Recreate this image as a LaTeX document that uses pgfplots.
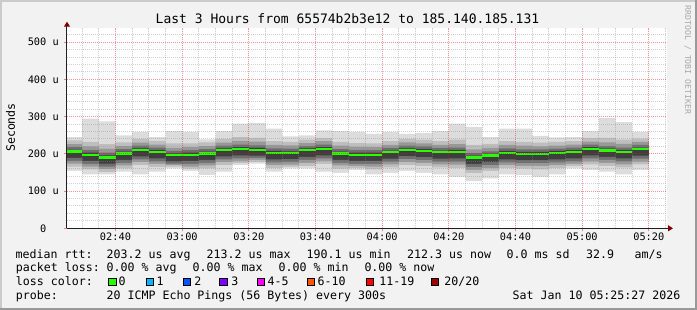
\documentclass[border=0pt]{standalone}
\usepackage{fontspec}
\setmainfont{DejaVu Sans Mono}
\setmonofont{DejaVu Sans Mono}
\usepackage{pgfplots}
\pgfplotsset{compat=1.18}
\usepackage{pgfplotstable}
\usetikzlibrary{arrows.meta}

\definecolor{bgc}{HTML}{F2F2F2}
\definecolor{shadea}{HTML}{CBCBCB}
\definecolor{shadeb}{HTML}{999999}
\definecolor{axisc}{HTML}{202020}
\definecolor{arrowc}{HTML}{7F0000}
\definecolor{mgrid}{HTML}{D21E1E}
\definecolor{sgrid}{HTML}{8C8C8C}
\definecolor{wmc}{HTML}{A8A8A8}
\definecolor{sa}{HTML}{DCDCDC}
\definecolor{sb}{HTML}{BEBEBE}
\definecolor{sc}{HTML}{989898}
\definecolor{sd}{HTML}{6E6E6E}
\definecolor{se}{HTML}{3E3E3E}
\definecolor{lca}{HTML}{26FF00}
\definecolor{lcb}{HTML}{00B8FF}
\definecolor{lcc}{HTML}{0059FF}
\definecolor{lcd}{HTML}{7E00FF}
\definecolor{lce}{HTML}{FF00FF}
\definecolor{lcf}{HTML}{FF5500}
\definecolor{lcg}{HTML}{FF0000}
\definecolor{lch}{HTML}{A10000}

\newcommand\legf{\fontsize{11.6pt}{13pt}\selectfont}
\newcommand\tickf{\fontsize{10.3pt}{12pt}\selectfont}
\newcommand\titf{\fontsize{13pt}{15pt}\selectfont}
\newcommand\wmf{\fontsize{8.2pt}{10pt}\selectfont}

% x = minutes after 00:00 (start of each 300 s step), values in microseconds
\pgfplotstableread{
x      mn  mx  aa  ba  ab  bb  ac  bc  ad  bd  med
145.45 154 245 166 236 174 226 181 218 189 211 206.1
150    145 295 158 232 166 220 173 210 181 203 198.0
155    145 287 151 226 159 214 166 203 174 196 190.1
160    152 250 161 231 169 221 176 213 184 206 200.7
165    145 259 170 240 178 230 185 222 193 215 210.6
170    152 245 165 235 173 225 180 217 188 210 205.2
175    161 261 166 228 170 216 174 208 180 201 196.2
180    154 259 160 228 166 218 173 210 181 203 198.0
185    143 239 161 231 169 221 176 213 184 206 200.7
190    152 261 170 240 178 230 185 222 193 215 209.7
195    170 281 175 245 181 235 188 225 196 218 213.2
200    174 283 179 243 184 233 189 223 195 216 210.6
205    152 268 162 234 170 224 177 215 185 208 202.5
210    161 247 166 232 171 223 178 214 186 207 202.5
215    161 250 168 238 176 229 184 221 192 215 209.7
220    152 263 173 242 181 234 188 225 196 218 213.2
225    149 261 160 232 169 222 176 213 184 206 200.7
230    156 259 162 229 167 219 173 210 181 203 198.0
235    145 254 158 228 166 218 173 210 181 203 198.0
240    149 259 164 234 172 224 179 216 187 209 204.3
245    154 254 170 240 178 231 186 222 194 215 210.6
250    149 256 168 238 176 228 183 220 191 213 207.9
255    145 261 164 234 172 224 179 216 187 209 204.3
260    138 281 162 238 171 226 179 217 188 210 205.2
265    127 272 148 224 157 212 165 202 173 195 190.1
270    134 245 154 227 162 216 170 207 178 200 195.4
275    145 268 162 234 170 224 177 215 185 208 202.5
280    143 268 160 232 168 222 175 212 183 205 199.8
285    138 248 158 230 167 220 175 212 183 205 199.8
290    145 244 162 232 170 222 177 214 185 208 202.5
295    161 245 167 234 173 225 180 217 188 210 205.2
300    156 261 172 242 180 233 188 225 196 218 213.2
305    152 296 168 243 176 231 184 221 192 214 208.8
310    145 285 164 238 172 227 180 217 188 210 205.2
315    156 259 172 241 179 232 187 224 195 217 212.3
320    156 259 172 241 179 232 187 224 195 217 212.3
}\smoke

\begin{document}
\begin{tikzpicture}[x=1pt,y=1pt]
\fill[bgc] (0,0) rectangle (697,310);
\fill[shadea] (0,0) rectangle (2,310);
\fill[shadea] (0,308) rectangle (697,310);
\fill[shadeb] (695,0) rectangle (697,310);
\fill[shadeb] (0,0) rectangle (697,2);

\begin{axis}[
  at={(67pt,81.7pt)}, anchor=south west,
  scale only axis, width=600pt, height=200.6pt,
  xmin=145.45, xmax=325.45, ymin=0, ymax=539,
  axis background/.style={fill=white},
  axis on top,
  axis lines=left,
  axis line style={line width=1pt, color=axisc, shorten >=-6pt,
    -{Triangle[length=5pt,width=6pt,color=arrowc,fill=arrowc]}},
  xtick={160,180,...,320},
  xticklabels={02:40,03:00,03:20,03:40,04:00,04:20,04:40,05:00,05:20},
  minor xtick={150,155,165,170,175,185,190,195,205,210,215,225,230,235,245,250,255,265,270,275,285,290,295,305,310,315,325},
  ytick={0,100,200,300,400,500},
  yticklabels={0\phantom{ u},100 u,200 u,300 u,400 u,500 u},
  minor ytick={20,40,60,80,120,140,160,180,220,240,260,280,320,340,360,380,420,440,460,480,520},
  grid=both,
  major grid style={color=mgrid, opacity=0.45, line width=1pt, dash pattern=on 1pt off 1pt},
  minor grid style={color=sgrid, opacity=0.4, line width=1pt, dash pattern=on 1pt off 1pt},
  tick align=outside,
  major tick length=3pt, minor tick length=0pt,
  tick style={color=mgrid, opacity=0.5, line width=1pt},
  xticklabel style={font=\tickf, anchor=base, yshift=-9pt},
  yticklabel style={font=\tickf, anchor=east, inner sep=0pt, xshift=-5pt},
]
% smoke: nested bands, drawn from the outside in, each filled down to zero
\addplot[const plot, fill=sa, draw=none, forget plot] table[x=x,y=mx]{\smoke} \closedcycle;
\addplot[const plot, fill=sb, draw=none, forget plot] table[x=x,y=ba]{\smoke} \closedcycle;
\addplot[const plot, fill=sc, draw=none, forget plot] table[x=x,y=bb]{\smoke} \closedcycle;
\addplot[const plot, fill=sd, draw=none, forget plot] table[x=x,y=bc]{\smoke} \closedcycle;
\addplot[const plot, fill=se, draw=none, forget plot] table[x=x,y=bd]{\smoke} \closedcycle;
\addplot[const plot, fill=sd, draw=none, forget plot] table[x=x,y=ad]{\smoke} \closedcycle;
\addplot[const plot, fill=sc, draw=none, forget plot] table[x=x,y=ac]{\smoke} \closedcycle;
\addplot[const plot, fill=sb, draw=none, forget plot] table[x=x,y=ab]{\smoke} \closedcycle;
\addplot[const plot, fill=sa, draw=none, forget plot] table[x=x,y=aa]{\smoke} \closedcycle;
\addplot[const plot, fill=white, draw=none, forget plot] table[x=x,y=mn]{\smoke} \closedcycle;
\addplot[jump mark left, color=lca, line width=2.2pt, forget plot] table[x=x,y=med]{\smoke};
\end{axis}

% title and side texts
\node[font=\titf, anchor=base, inner sep=0] at (347.5,286) {Last 3 Hours from 65574b2b3e12 to 185.140.185.131};
\node[font=\legf, anchor=base, inner sep=0, rotate=90] at (15,182.5) {Seconds};
\node[font=\wmf, text=wmc, anchor=base, inner sep=0, rotate=-90] at (685,250) {RRDTOOL / TOBI OETIKER};

% legend rows
\begin{scope}[every node/.style={font=\legf, anchor=base west, inner sep=0}]
\node at (15.5,51.7) {median rtt:};
\node at (106.5,51.7) {203.2 us avg};
\node at (206.5,51.7) {213.2 us max};
\node at (306.5,51.7) {190.1 us min};
\node at (407,51.7) {212.3 us now};
\node at (506.5,51.7) {0.0 ms sd};
\node at (586,51.7) {32.9};
\node at (634.5,51.7) {am/s};

\node at (15.8,38) {packet loss:};
\node at (106.5,38) {0.00 \% avg};
\node at (192.5,38) {0.00 \% max};
\node at (278.5,38) {0.00 \% min};
\node at (364.3,38) {0.00 \% now};

\node at (15.8,24.2) {loss color:};
\node at (118.5,24.2) {0};
\node at (156.5,24.2) {1};
\node at (194.2,24.2) {2};
\node at (231.2,24.2) {3};
\node at (267.5,24.2) {4-5};
\node at (317.5,24.2) {6-10};
\node at (379.2,24.2) {11-19};
\node at (444.2,24.2) {20/20};

\node at (15.8,10.5) {probe:};
\node at (106.5,10.5) {20 ICMP Echo Pings (56 Bytes) every 300s};
\node at (512.5,10.5) {Sat Jan 10 05:25:27 2026};
\end{scope}

% loss colour swatches
\foreach \xx/\cc in {108.8/lca,146.2/lcb,183.2/lcc,219.8/lcd,257.2/lce,307.2/lcf,366.2/lcg,431.2/lch}{
  \filldraw[fill=\cc, draw=black, line width=1pt] (\xx,24.6) rectangle ++(7.3,7.3);
}
\end{tikzpicture}
\end{document}
